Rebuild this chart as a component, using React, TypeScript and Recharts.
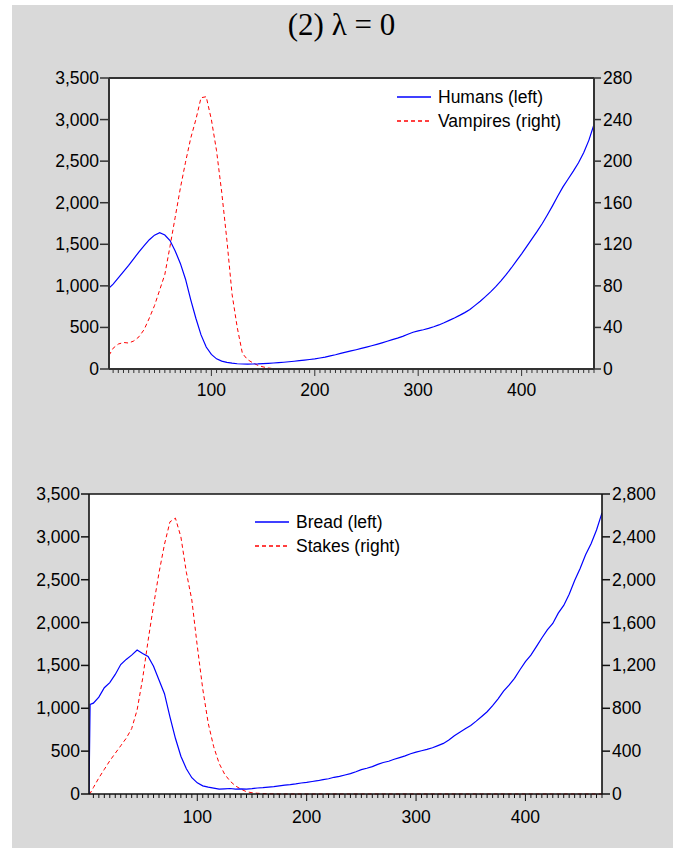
import React from 'react';
import { LineChart, Line, XAxis, YAxis, ReferenceLine } from 'recharts';

// periods sampled every 5 steps (top panel) and 1, 2, then every 5 (bottom panel)
const topPeriods = [1, ...Array.from({ length: 94 }, (_, i) => (i + 1) * 5)];
const bottomPeriods = [1, 2, ...Array.from({ length: 94 }, (_, i) => (i + 1) * 5)];

const humans = [
  975, 1020, 1095, 1170, 1245, 1327, 1410, 1485, 1555, 1610,
  1640, 1612, 1545, 1420, 1270, 1080, 835, 610, 410, 265,
  175, 122, 95, 80, 70, 63, 60, 58, 60, 61,
  64, 68, 72, 76, 81, 87, 93, 100, 107, 114,
  122, 132, 143, 157, 171, 188, 203, 217, 232, 248,
  264, 280, 297, 315, 334, 353, 372, 393, 418, 442,
  458, 472, 488, 508, 530, 556, 585, 614, 645, 678,
  715, 765, 815, 870, 928, 990, 1060, 1135, 1215, 1300,
  1385, 1475, 1565, 1655, 1750, 1855, 1965, 2080, 2190, 2285,
  2380, 2480, 2600, 2750, 2940,
];

const vampires = [
  13, 20, 24, 25.5, 25, 27, 31, 38, 49, 61,
  76, 91, 118, 146, 174, 199, 222, 240, 261, 262,
  240, 210, 170, 124, 72, 40, 15, 9, 6, 3.5,
  2, 1, 0.3, 0, 0, 0, 0, 0, 0, 0,
  0, 0, 0, 0, 0, 0, 0, 0, 0, 0,
  0, 0, 0, 0, 0, 0, 0, 0, 0, 0,
  0, 0, 0, 0, 0, 0, 0, 0, 0, 0,
  0, 0, 0, 0, 0, 0, 0, 0, 0, 0,
  0, 0, 0, 0, 0, 0, 0, 0, 0, 0,
  0, 0, 0, 0, 0,
];

const bread = [
  0, 1045,
  1060, 1130, 1240, 1300, 1395, 1510, 1570, 1620, 1680, 1640,
  1605, 1490, 1330, 1170, 900, 650, 440, 295, 190, 130,
  95, 80, 68, 56, 60, 64, 58, 60, 57, 62,
  70, 74, 80, 86, 95, 104, 110, 118, 128, 136,
  146, 155, 168, 178, 195, 205, 222, 238, 260, 285,
  300, 320, 345, 368, 382, 405, 425, 445, 470, 488,
  505, 520, 540, 565, 590, 630, 680, 720, 760, 800,
  850, 905, 960, 1030, 1110, 1200, 1270, 1350, 1450, 1545,
  1620, 1720, 1820, 1915, 1990, 2110, 2200, 2330, 2490, 2630,
  2790, 2920, 3080, 3280,
];

const stakes = [
  0, 5,
  60, 150, 230, 310, 380, 450, 520, 610, 785, 1075,
  1430, 1760, 2065, 2330, 2540, 2575, 2400, 2070, 1811, 1380,
  980, 660, 441, 285, 185, 120, 75, 45, 21, 12,
  7, 4, 2, 1, 0, 0, 0, 0, 0, 0,
  0, 0, 0, 0, 0, 0, 0, 0, 0, 0,
  0, 0, 0, 0, 0, 0, 0, 0, 0, 0,
  0, 0, 0, 0, 0, 0, 0, 0, 0, 0,
  0, 0, 0, 0, 0, 0, 0, 0, 0, 0,
  0, 0, 0, 0, 0, 0, 0, 0, 0, 0,
  0, 0, 0, 0,
];

const xTicks = Array.from({ length: 94 }, (_, i) => (i + 1) * 5);
const leftTicks = [0, 500, 1000, 1500, 2000, 2500, 3000, 3500];
const topRightTicks = [0, 40, 80, 120, 160, 200, 240, 280];
const bottomRightTicks = [0, 400, 800, 1200, 1600, 2000, 2400, 2800];

const topData = topPeriods.map((t, i) => ({ t, humans: humans[i], vampires: vampires[i] }));
const bottomData = bottomPeriods.map((t, i) => ({ t, bread: bread[i], stakes: stakes[i] }));

const FONT = '"Liberation Sans", Arial, sans-serif';
const FS = 17.5;
const fmt = (v: number) => v.toLocaleString('en-US');

const makeLeftTick = (len: number, color: string) => (props: any) => {
  const { x, y, payload } = props;
  return (
    <g>
      <line x1={x - len} x2={x} y1={y} y2={y} stroke={color} strokeWidth={1.5} />
      <text x={x - len - 1} y={y} textAnchor="end" dominantBaseline="central" fontFamily={FONT} fontSize={FS} fill="#000">
        {fmt(payload.value)}
      </text>
    </g>
  );
};

const makeRightTick = (len: number, color: string) => (props: any) => {
  const { x, y, payload } = props;
  return (
    <g>
      <line x1={x} x2={x + len} y1={y} y2={y} stroke={color} strokeWidth={1.5} />
      <text x={x + len + 2} y={y} textAnchor="start" dominantBaseline="central" fontFamily={FONT} fontSize={FS} fill="#000">
        {fmt(payload.value)}
      </text>
    </g>
  );
};

const makeBottomTick = (labelDy: number, color: string) => (props: any) => {
  const { x, y, payload } = props;
  const major = payload.value % 100 === 0;
  return (
    <g>
      <line x1={x} x2={x} y1={y} y2={y + (major ? 7 : 4)} stroke={color} strokeWidth={1} />
      {major ? (
        <text x={x} y={y + labelDy} textAnchor="middle" fontFamily={FONT} fontSize={FS} fill="#000">
          {payload.value}
        </text>
      ) : null}
    </g>
  );
};

const LegendRow = ({ x, y, dashed, color, label }: any) => (
  <div style={{ position: 'absolute', left: x, top: y - 12, height: 24, display: 'flex', alignItems: 'center' }}>
    <svg width={34} height={4} style={{ display: 'block' }}>
      <line x1={0} x2={34} y1={2} y2={2} stroke={color} strokeWidth={1.3} strokeDasharray={dashed ? '4 3' : undefined} />
    </svg>
    <span style={{ marginLeft: 7, fontFamily: FONT, fontSize: FS, color: '#000', whiteSpace: 'nowrap' }}>{label}</span>
  </div>
);

export default function App() {
  const topFrame = '#333';
  const botFrame = '#111';
  return (
    <div style={{ position: 'absolute', left: 0, top: 0, width: 683, height: 848, background: '#fff' }}>
      <div style={{ position: 'absolute', left: 12, top: 5, width: 661, height: 843, background: '#d9d9d9' }} />
      <div
        style={{
          position: 'absolute', left: 0, top: 7, width: 683, textAlign: 'center',
          fontFamily: '"Liberation Serif", "Times New Roman", serif', fontSize: 31, color: '#000',
        }}
      >
        (2) λ = 0
      </div>

      <div style={{ position: 'absolute', left: 0, top: 0 }}>
        <LineChart width={683} height={420} data={topData} margin={{ top: 78, right: 29, bottom: 21, left: 49 }}>
          <rect x={109} y={78} width={485} height={291} fill="#fff" />
          <XAxis
            dataKey="t" type="number" domain={[1, 470]} allowDataOverflow ticks={xTicks} interval={0}
            height={30} tickSize={0} tickMargin={0} tickLine={false}
            axisLine={{ stroke: topFrame, strokeWidth: 2 }} tick={makeBottomTick(27, topFrame)}
          />
          <YAxis
            yAxisId="left" orientation="left" domain={[0, 3500]} ticks={leftTicks} interval={0} width={60}
            tickSize={0} tickMargin={0} tickLine={false} axisLine={{ stroke: topFrame, strokeWidth: 2 }}
            tick={makeLeftTick(9, topFrame)}
          />
          <YAxis
            yAxisId="right" orientation="right" domain={[0, 280]} ticks={topRightTicks} interval={0} width={60}
            tickSize={0} tickMargin={0} tickLine={false} axisLine={{ stroke: topFrame, strokeWidth: 2 }}
            tick={makeRightTick(7, topFrame)}
          />
          <ReferenceLine yAxisId="left" y={3500} stroke={topFrame} strokeWidth={2} />
          <Line yAxisId="right" dataKey="vampires" stroke="#ff0000" strokeWidth={1} strokeDasharray="4 3" dot={false} type="linear" isAnimationActive={false} />
          <Line yAxisId="left" dataKey="humans" stroke="#0000ff" strokeWidth={1.2} dot={false} type="linear" isAnimationActive={false} />
        </LineChart>
      </div>

      <div style={{ position: 'absolute', left: 0, top: 440 }}>
        <LineChart width={683} height={400} data={bottomData} margin={{ top: 54, right: 21, bottom: 16, left: 29 }}>
          <rect x={89} y={54} width={513} height={300} fill="#fff" />
          <XAxis
            dataKey="t" type="number" domain={[1, 470]} allowDataOverflow ticks={xTicks} interval={0}
            height={30} tickSize={0} tickMargin={0} tickLine={false}
            axisLine={{ stroke: botFrame, strokeWidth: 1.6 }} tick={makeBottomTick(29, botFrame)}
          />
          <YAxis
            yAxisId="left" orientation="left" domain={[0, 3500]} ticks={leftTicks} interval={0} width={60}
            tickSize={0} tickMargin={0} tickLine={false} axisLine={{ stroke: botFrame, strokeWidth: 1.6 }}
            tick={makeLeftTick(8, botFrame)}
          />
          <YAxis
            yAxisId="right" orientation="right" domain={[0, 2800]} ticks={bottomRightTicks} interval={0} width={60}
            tickSize={0} tickMargin={0} tickLine={false} axisLine={{ stroke: botFrame, strokeWidth: 1.6 }}
            tick={makeRightTick(8, botFrame)}
          />
          <ReferenceLine yAxisId="left" y={3500} stroke={botFrame} strokeWidth={1.6} />
          <Line yAxisId="right" dataKey="stakes" stroke="#ff0000" strokeWidth={1} strokeDasharray="4 3" dot={false} type="linear" isAnimationActive={false} />
          <Line yAxisId="left" dataKey="bread" stroke="#0000ff" strokeWidth={1.2} dot={false} type="linear" isAnimationActive={false} />
        </LineChart>
      </div>

      <LegendRow x={397} y={97} color="#0000ff" label="Humans (left)" />
      <LegendRow x={397} y={121} color="#ff0000" dashed label="Vampires (right)" />
      <LegendRow x={255} y={522} color="#0000ff" label="Bread (left)" />
      <LegendRow x={255} y={546} color="#ff0000" dashed label="Stakes (right)" />
    </div>
  );
}
